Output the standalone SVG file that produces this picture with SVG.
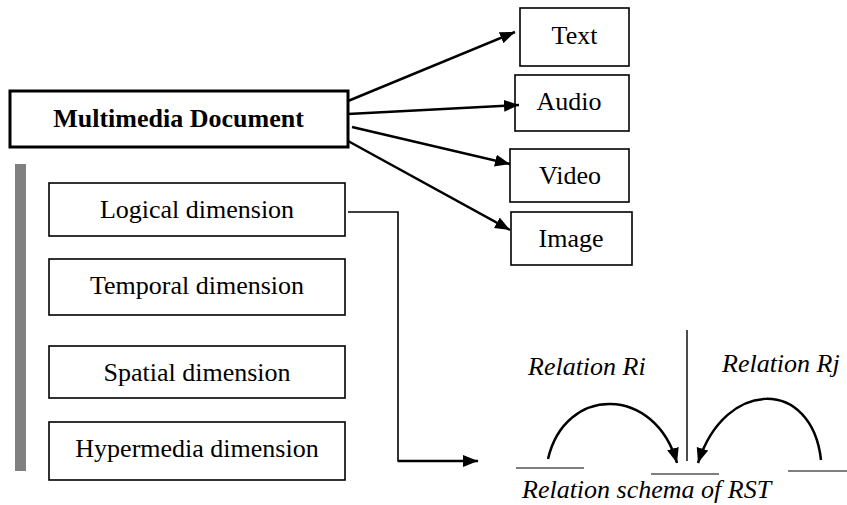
<svg xmlns="http://www.w3.org/2000/svg" width="847" height="505" viewBox="0 0 847 505">
<defs>
<marker id="ah" markerUnits="userSpaceOnUse" markerWidth="16" markerHeight="14" refX="15" refY="6" orient="auto">
<path d="M0,0 L15,6 L0,12 Z" fill="#000"/>
</marker>
<style>
text{font-family:'Liberation Serif','Times New Roman',Times,serif}
.box{fill:#fff;stroke:#000;stroke-width:1.6}
.lbl{font-size:26px;fill:#000;text-anchor:middle}
.it{font-size:26px;font-style:italic;fill:#000}
.arr{fill:none;stroke:#000;stroke-width:2.5;marker-end:url(#ah)}
.thin{fill:none;stroke:#000;stroke-width:1.4}
.base{fill:none;stroke:#555;stroke-width:1.4}
</style>
</defs>
<rect x="15" y="164" width="11" height="307" fill="#808080"/>
<g id="multimedia">
<rect x="10" y="91" width="338" height="56" fill="#fff" stroke="#000" stroke-width="3"/>
<text class="lbl" x="178.5" y="127" font-weight="bold">Multimedia Document</text>
</g>
<g id="text">
<rect class="box" x="520" y="8" width="109" height="58"/>
<text class="lbl" x="574.5" y="44">Text</text>
</g>
<g id="audio">
<rect class="box" x="515" y="75" width="114" height="56"/>
<text class="lbl" x="569" y="110">Audio</text>
</g>
<g id="video">
<rect class="box" x="510" y="149" width="119" height="53"/>
<text class="lbl" x="570" y="184">Video</text>
</g>
<g id="image">
<rect class="box" x="511" y="212" width="121" height="53"/>
<text class="lbl" x="571" y="247">Image</text>
</g>
<g id="logical">
<rect class="box" x="49" y="183" width="296" height="53"/>
<text class="lbl" x="197" y="218">Logical dimension</text>
</g>
<g id="temporal">
<rect class="box" x="49" y="259" width="296" height="56"/>
<text class="lbl" x="197" y="294">Temporal dimension</text>
</g>
<g id="spatial">
<rect class="box" x="49" y="346" width="296" height="52"/>
<text class="lbl" x="197" y="381">Spatial dimension</text>
</g>
<g id="hypermedia">
<rect class="box" x="49" y="422" width="296" height="58"/>
<text class="lbl" x="197" y="457">Hypermedia dimension</text>
</g>
<g id="rst">
<line class="thin" x1="687" y1="330" x2="687" y2="461"/>
<line class="base" x1="516" y1="468" x2="584" y2="468"/>
<line class="base" x1="651" y1="474" x2="719" y2="474"/>
<line class="base" x1="788" y1="471" x2="847" y2="471"/>
<text class="it" x="528" y="375">Relation Ri</text>
<text class="it" x="722" y="372">Relation Rj</text>
<text class="it" x="522" y="498">Relation schema of RST</text>
</g>
<g id="connectors">
<path class="arr" d="M348,101 L515,32"/>
<path class="arr" d="M348,114 L519,105"/>
<path class="arr" d="M352,127 L510,164"/>
<path class="arr" d="M348,141 L510,230"/>
<path fill="none" stroke="#000" stroke-width="1.6" d="M348,212 L398,212 L398,461 L420,461"/>
<path class="arr" d="M398,461 L478,461"/>
<path class="arr" d="M548,459 C565,385 655,385 677,463"/>
<path class="arr" d="M821,460 C812,378 725,378 698,463"/>
</g>
</svg>
